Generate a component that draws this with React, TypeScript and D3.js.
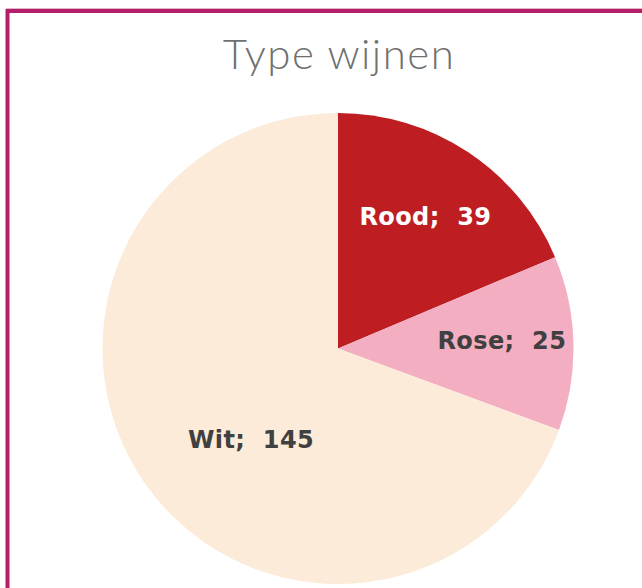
import React from "react";
import * as d3 from "d3";

const categories = ["Rood", "Rose", "Wit"];
const values = [39, 25, 145];
const colors = ["#BE1E22", "#F3AFC1", "#FBEBD8"];
const labelColors = ["#FFFFFF", "#404040", "#404040"];
const title = "Type wijnen";

export default function App() {
  const W = 642, H = 588;
  const cx = 338, cy = 348.5, r = 235.5;
  const pie = d3.pie<number>().sort(null).value((d) => d);
  const arcs = pie(values);
  const arc = d3.arc<d3.PieArcDatum<number>>().innerRadius(0).outerRadius(r);
  const labelPos = (a: d3.PieArcDatum<number>, i: number) => {
    const lr = [158, 164, 126][i];
    const shift = [0, -0.02, -0.2][i];
    const ang = (a.startAngle + a.endAngle) / 2 + shift;
    return [lr * Math.sin(ang), -lr * Math.cos(ang)];
  };
  return (
    <svg width={W} height={H} style={{ position: "absolute", left: 0, top: 0, background: "#fff" }}>
      <line x1={6} x2={W} y1={8.5} y2={8.5} stroke="#E6B3CB" strokeWidth={1} />
      <rect x={7.5} y={11} width={W + 20} height={H + 20} fill="#fff" stroke="#B3206A" strokeWidth={4} />
      <text x={339} y={69} textAnchor="middle" fontFamily="Lato, 'Open Sans', sans-serif" fontWeight={300} fontSize={42} letterSpacing={1.5} fill="#707070">
        {title}
      </text>
      <g transform={`translate(${cx},${cy})`}>
        {arcs.map((a, i) => (
          <path key={categories[i]} d={arc(a) || ""} fill={colors[i]} />
        ))}
        {arcs.map((a, i) => {
          const [x, y] = labelPos(a, i);
          return (
            <text key={"l" + i} x={x} y={y} dy="0.33em" textAnchor="middle" fontFamily="'DejaVu Sans', sans-serif" fontWeight={700} fontSize={24} letterSpacing={0.4} fill={labelColors[i]} style={{ whiteSpace: "pre" }}>
              {`${categories[i]};  ${values[i]}`}
            </text>
          );
        })}
      </g>
    </svg>
  );
}
